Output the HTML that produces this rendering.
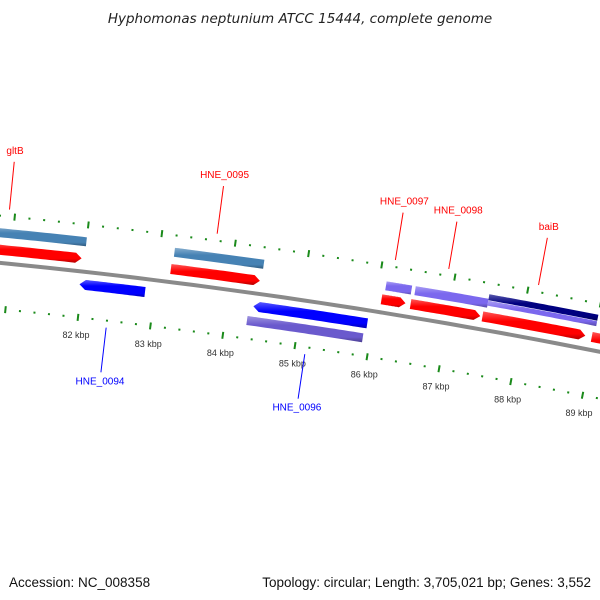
<!DOCTYPE html>
<html><head><meta charset="utf-8"><style>
body{margin:0;background:#fff}
svg{display:block;font-family:"Liberation Sans",sans-serif}
</style></head><body>
<svg id="map" width="600" height="600" viewBox="0 0 600 600" xmlns="http://www.w3.org/2000/svg">
<defs>
<linearGradient id="shade" x1="0" y1="0" x2="0" y2="1">
<stop offset="0" stop-color="#fff" stop-opacity="0.35"/><stop offset="0.35" stop-color="#fff" stop-opacity="0"/><stop offset="0.8" stop-color="#000" stop-opacity="0"/><stop offset="1" stop-color="#000" stop-opacity="0.3"/>
</linearGradient>
</defs>
<text x="300" y="23" text-anchor="middle" font-size="13.5" font-style="italic" fill="#222" font-family="'DejaVu Sans',sans-serif">Hyphomonas neptunium ATCC 15444, complete genome</text>
<g id="ticks"></g>
<g id="feat"></g>
<g id="labs"></g>
<text x="9" y="587" font-size="13.5" fill="#111">Accession: NC_008358</text>
<text x="591" y="587" text-anchor="end" font-size="13.5" fill="#111">Topology: circular; Length: 3,705,021 bp; Genes: 3,552</text>
</svg>
<script>
// data (kbp)
const tickStart = 80, tickEnd = 91;
const kbpLabels = [82, 83, 84, 85, 86, 87, 88, 89];
const fwdArrowStarts = [80.5, 83.18, 86.07, 86.47, 87.46, 88.97];
const fwdArrowEnds   = [81.96, 84.40, 86.40, 87.43, 88.88, 90.0];
const fwdBarStarts = [80.5, 83.2];
const fwdBarEnds   = [82.0, 84.42];
const fwdPurpleStarts = [86.1, 86.5, 87.5];
const fwdPurpleEnds   = [86.45, 87.5, 89.0];
const fwdNavyStarts = [87.5];
const fwdNavyEnds   = [89.0];
const revArrowStarts = [81.97, 84.36];
const revArrowEnds   = [82.87, 85.93];
const revBarStarts = [84.3];
const revBarEnds   = [85.9];
const fwdLabels = ["gltB", "HNE_0095", "HNE_0097", "HNE_0098", "baiB"];
const fwdLabelPos = [80.92, 83.74, 86.17, 86.9, 88.13];
const revLabels = ["HNE_0094", "HNE_0096"];
const revLabelPos = [82.4, 85.15];

const NS = "http://www.w3.org/2000/svg";
const cx = -608, cy = 6433, R = 6200, th0 = 0.1117, k = 0.011855;
function th(bp){ return th0 + (bp - 82) * k; }
function pt(bp, r){ const t = th(bp); return [cx + r * Math.sin(t), cy - r * Math.cos(t)]; }
function mk(tag, attrs, parent){ const e = document.createElementNS(NS, tag); for (const a in attrs) e.setAttribute(a, attrs[a]); parent.appendChild(e); return e; }
const tg = document.getElementById('ticks'), fg = document.getElementById('feat'), lg = document.getElementById('labs');

let bb = [];
for (let b = 79; b <= 91; b += 0.25) bb.push(pt(b, R).map(v => v.toFixed(1)).join(','));
const bbl = mk('polyline', {points: bb.join(' '), fill: 'none', stroke: '#8a8a8a', 'stroke-width': 4}, fg);



[R + 47, R - 46].forEach(r => {
  for (let i = 0; tickStart + i * 0.2 <= tickEnd; i++) {
    const b = tickStart + i * 0.2;
    const major = i % 5 === 0;
    const h = major ? 3.5 : 1;
    const a = pt(b, r - h), c = pt(b, r + h);
    const l = mk('line', {x1: a[0], y1: a[1], x2: c[0], y2: c[1], stroke: '#1a8a1a', 'stroke-width': 2}, tg);
    
    
  }
});
kbpLabels.forEach(b => {
  const p = pt(b, R - 64);
  const t = mk('text', {x: p[0], y: p[1] + 3, 'text-anchor': 'middle', 'font-size': 9, fill: '#333'}, lg);
  t.textContent = b + ' kbp';
  
  
});

function feature(s, e, rc, w, color, arrow, name){
  const n = 24, hb = 6 / 73.5;
  let outer = [], inner = [];
  let bs = s, be = e;
  if (arrow === 1) be = Math.max(s, e - hb);
  if (arrow === -1) bs = Math.min(e, s + hb);
  for (let i = 0; i <= n; i++) { const b = bs + (be - bs) * i / n; outer.push(pt(b, rc + w / 2)); inner.push(pt(b, rc - w / 2)); }
  let pts = outer.slice();
  if (arrow === 1) pts.push(pt(e, rc));
  pts = pts.concat(inner.reverse());
  if (arrow === -1) pts.push(pt(s, rc));
  const str = pts.map(p => p[0].toFixed(1) + ',' + p[1].toFixed(1)).join(' ');
  const g = mk('polygon', {points: str, fill: color}, fg);
  
  
  const hl = mk('polygon', {points: str, fill: 'url(#shade)'}, fg);
  
  
}
fwdArrowStarts.forEach((s, i) => feature(s, fwdArrowEnds[i], R + 13, 10, '#ff0000', 1, 'forward-gene'));
fwdBarStarts.forEach((s, i) => feature(s, fwdBarEnds[i], R + 30, 9, '#4682b4', 0, 'forward-cds-bar'));
fwdPurpleStarts.forEach((s, i) => feature(s, fwdPurpleEnds[i], R + 27, i === 2 ? 5 : 9, '#7b68ee', 0, 'forward-purple-bar'));
fwdNavyStarts.forEach((s, i) => feature(s, fwdNavyEnds[i], R + 33, 6, '#000080', 0, 'forward-navy-bar'));
revArrowStarts.forEach((s, i) => feature(s, revArrowEnds[i], R - 13, 10, '#0000ff', -1, 'reverse-gene'));
revBarStarts.forEach((s, i) => feature(s, revBarEnds[i], R - 28, 9, '#6a5acd', 0, 'reverse-purple-bar'));

function label(text, b, color, up){
  const a = pt(b, up ? R + 54 : R - 53), c = pt(b, up ? R + 102 : R - 98), tp = pt(b, up ? R + 110 : R - 106);
  const l = mk('line', {x1: a[0], y1: a[1], x2: c[0], y2: c[1], stroke: color, 'stroke-width': 1}, lg);
  
  
  const t = mk('text', {x: tp[0], y: tp[1] + (up ? 0 : 4), 'text-anchor': 'middle', 'font-size': 10, fill: color}, lg);
  t.textContent = text;
  
  
}
fwdLabels.forEach((t, i) => label(t, fwdLabelPos[i], '#ff0000', true));
revLabels.forEach((t, i) => label(t, revLabelPos[i], '#0000ff', false));
</script>
</body></html>
